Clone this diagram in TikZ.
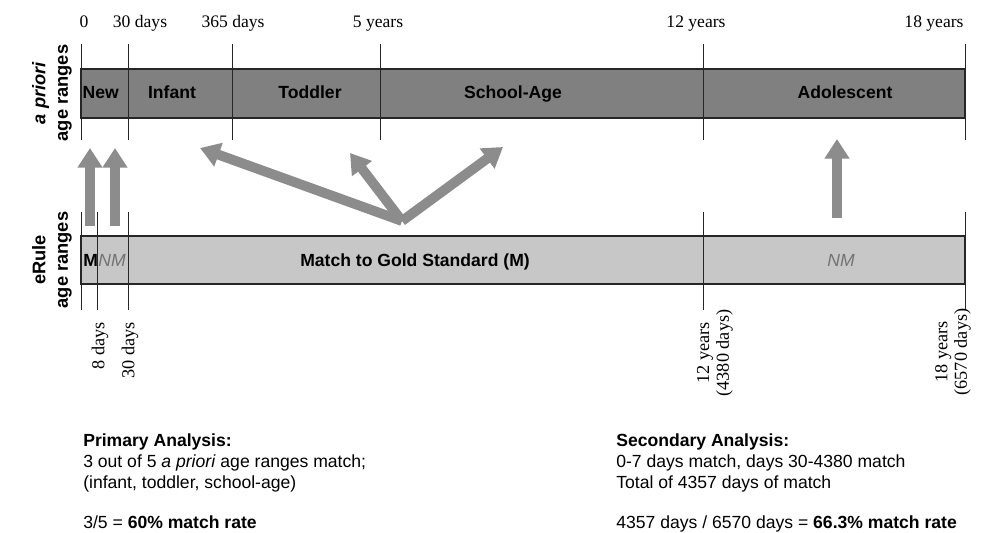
\documentclass[tikz,border=0pt]{standalone}
\usepackage{fontspec}
\setmainfont{Liberation Serif}
\setsansfont{Liberation Sans}
\usetikzlibrary{arrows.meta, positioning}
\tikzset{
        x=0.025cm, y=-0.025cm, % one unit is one pixel, y grows downwards
        ranges bar/.style={draw=black!85, line width=0.8pt, fill=black!50}, % the a priori ranges
        erule bar/.style={draw=black!85, line width=0.8pt, fill=black!22}, % the eRule ranges
        tick/.style={black!85, line width=0.6pt},
        scale label/.style={font=\fontsize{12.5}{15}\selectfont, anchor=base},
        cut label/.style={font=\fontsize{13}{14}\selectfont, rotate=90, inner sep=0pt, align=center},
        seg label/.style={font=\sffamily\bfseries\fontsize{12.5}{15}\selectfont, anchor=base}, % all on one baseline
        nm label/.style={font=\sffamily\itshape\fontsize{12.5}{15}\selectfont, text=black!55, anchor=base},
        side label/.style={font=\sffamily\bfseries\fontsize{13}{16}\selectfont, rotate=90, align=center},
        analysis/.style={font=\sffamily\fontsize{12.5}{15.2}\selectfont, align=left, inner sep=0pt},
        match arrow/.style={line width=7pt, black!45, -{Triangle[length=14pt, width=17pt]}}, % block arrows
        }

\begin{document}
\begin{tikzpicture}
        \useasboundingbox (0,0) rectangle (984,532);

        % the two bars
        \draw[ranges bar] (81,69) rectangle (965,118);
        \draw[erule bar] (81,236) rectangle (965,284);

        % boundaries of the ranges
        \draw[tick] (81,44) -- (81,140) (128,44) -- (128,140) (232,44) -- (232,140)
                (380,44) -- (380,140) (703,44) -- (703,140) (965,44) -- (965,140);
        \draw[tick] (81,212) -- (81,310) (97,212) -- (97,310) (128,212) -- (128,310)
                (703,212) -- (703,310) (965,212) -- (965,310);

        % ages along the top
        \node[scale label] (age0) at (84,28) {0};
        \node[scale label] (age30) at (140,28) {30 days};
        \node[scale label] (age365) at (233,28) {365 days};
        \node[scale label] (age5y) at (378,28) {5 years};
        \node[scale label] (age12y) at (696,28) {12 years};
        \node[scale label] (age18y) at (934,28) {18 years};

        % a priori ranges
        \node[seg label, anchor=base west, inner sep=1pt] (New) at (81,99) {New};
        \node[seg label] (Infant) at (172,99) {Infant};
        \node[seg label] (Toddler) at (310,99) {Toddler};
        \node[seg label] (SchoolAge) at (513,99) {School-Age};
        \node[seg label] (Adolescent) at (845,99) {Adolescent};

        % eRule ranges
        \node[seg label, anchor=base west, inner sep=1.5pt] (M) at (81,266) {M};
        \node[nm label] (NMnew) at (112,266) {NM};
        \node[seg label] (Match) at (415,266) {Match to Gold Standard (M)};
        \node[nm label] (NMadol) at (841,266) {NM};

        \node[side label] (aprioriSide) at (52,93) {\textit{a priori}\\age ranges};
        \node[side label] (eruleSide) at (52,260) {eRule\\age ranges};

        % cut points of the eRule
        \node[cut label, anchor=east] (cut8) at (100,322) {8 days};
        \node[cut label, anchor=east] (cut30) at (130,322) {30 days};
        \node[cut label] (cut12y) at (715,353) {12 years\\(4380 days)};
        \node[cut label] (cut18y) at (953,352) {18 years\\(6570 days)};

        % arrows from eRule ranges up to a priori ranges
        \coordinate (mFoot) at (90,226);
        \coordinate (mTip) at (90,148);
        \coordinate (nmFoot) at (115,226);
        \coordinate (nmTip) at (115,148);
        \coordinate (hub) at (402,221);
        \coordinate (infantTip) at (200,148);
        \coordinate (toddlerTip) at (350,153);
        \coordinate (schoolTip) at (503,147);
        \coordinate (adolFoot) at (837,218);
        \coordinate (adolTip) at (837,139);

        \draw[match arrow] (mFoot) -- (mTip);
        \draw[match arrow] (nmFoot) -- (nmTip);
        \draw[match arrow] (hub) -- (infantTip);
        \draw[match arrow] (hub) -- (toddlerTip);
        \draw[match arrow] (hub) -- (schoolTip);
        \draw[match arrow] (adolFoot) -- (adolTip);

        % results
        \node[analysis, anchor=north west] (primary) at (83,433) {\textbf{Primary Analysis:}\\
                3 out of 5 \textit{a priori} age ranges match;\\(infant, toddler, school-age)};
        \node[analysis, anchor=base west] (primaryRate) at (83,528) {3/5 = \textbf{60\% match rate}};
        \node[analysis, anchor=north west] (secondary) at (616,433) {\textbf{Secondary Analysis:}\\
                0-7 days match, days 30-4380 match\\Total of 4357 days of match};
        \node[analysis, anchor=base west] (secondaryRate) at (616,528) {4357 days / 6570 days = \textbf{66.3\% match rate}};

\end{tikzpicture}
\end{document}
